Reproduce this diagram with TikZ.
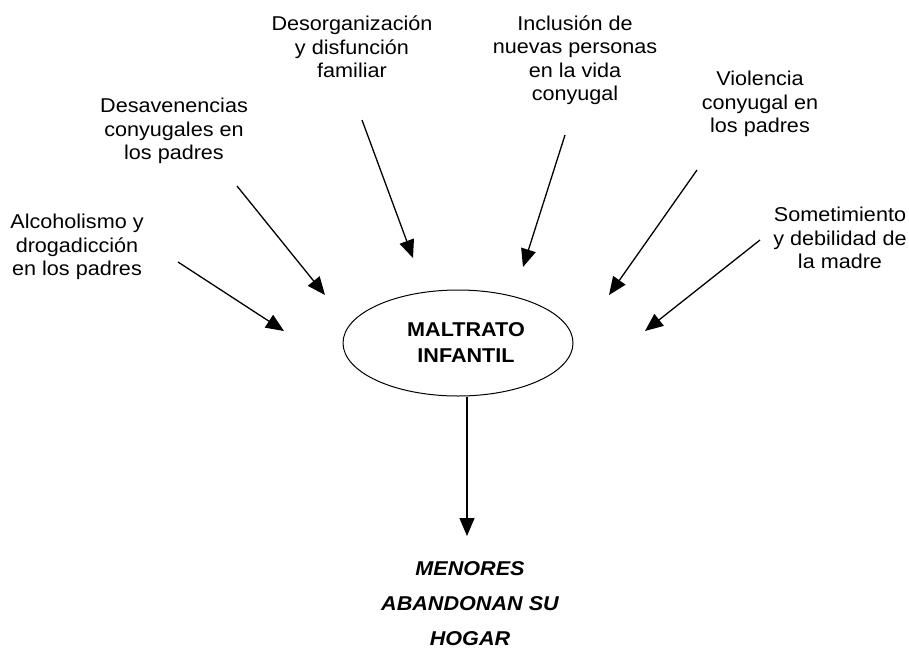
\documentclass[tikz,border=0pt]{standalone}
\usepackage{fontspec}
\setmainfont[FakeStretch=1.08]{Liberation Sans}
\usetikzlibrary{arrows.meta,shapes.geometric}

\begin{document}
\begin{tikzpicture}[x=1pt,y=-1pt,
  every node/.style={align=center,inner sep=0pt,font=\fontsize{20}{23.5}\selectfont},
  flecha/.style={line width=1.3pt,-{Triangle[length=18pt,width=15pt]}}]
          \useasboundingbox (0,0) rectangle (909,651);
          \node (alcohol) at (77,247) {Alcoholismo y\\drogadicción\\en los padres};
          \node (desaven) at (174,131) {Desavenencias\\conyugales en\\los padres};
          \node (desorg) at (352,47) {Desorganización\\y disfunción\\familiar};
          \node (inclusion) at (575,60) {Inclusión de\\nuevas personas\\en la vida\\conyugal};
          \node (violencia) at (760,104) {Violencia\\conyugal en\\los padres};
          \node (sometim) at (840,238) {Sometimiento\\y debilidad de\\la madre};
          \node[ellipse, draw, line width=1pt, minimum width=230, minimum height=106] (elipse) at (458,343) {};
          \node[font=\fontsize{20}{26}\selectfont\bfseries] (maltrato) at (466,343) {MALTRATO\\INFANTIL};
          \node[font=\fontsize{20}{35}\selectfont\bfseries\itshape] (menores) at (470,604) {MENORES\\ABANDONAN SU\\HOGAR};
          \coordinate (a1) at (178,262);
          \coordinate (b1) at (284,331);
          \coordinate (a2) at (237,186);
          \coordinate (b2) at (325,295);
          \coordinate (a3) at (362,120);
          \coordinate (b3) at (413,258);
          \coordinate (a4) at (565,135);
          \coordinate (b4) at (523,267);
          \coordinate (a5) at (697,170);
          \coordinate (b5) at (609,295);
          \coordinate (a6) at (760,240);
          \coordinate (b6) at (645,331);
          \coordinate (b7) at (467,536);
          \draw[flecha] (a1) -- (b1);
          \draw[flecha] (a2) -- (b2);
          \draw[flecha] (a3) -- (b3);
          \draw[flecha] (a4) -- (b4);
          \draw[flecha] (a5) -- (b5);
          \draw[flecha] (a6) -- (b6);
          \draw[flecha] (b7 |- elipse.south) -- (b7);
\end{tikzpicture}
\end{document}
